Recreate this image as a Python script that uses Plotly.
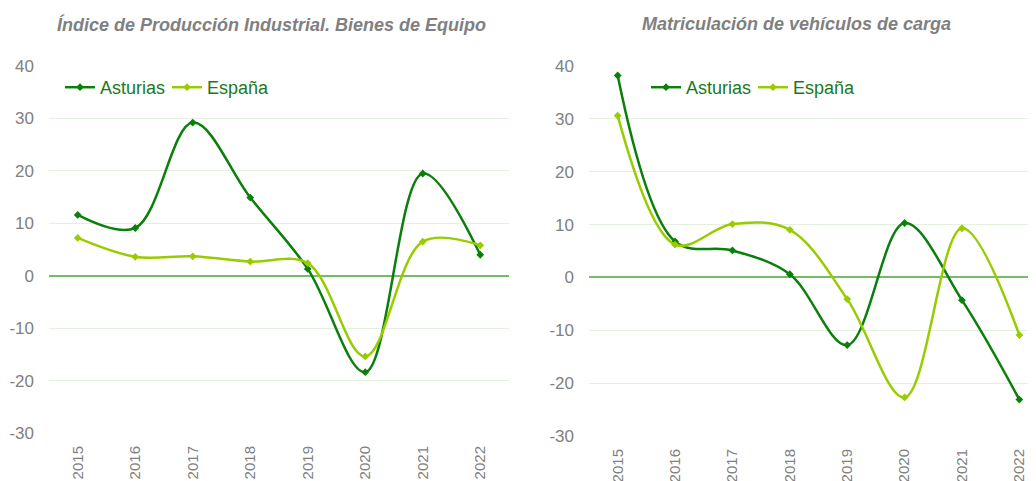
import plotly.graph_objects as go

years = ["2015", "2016", "2017", "2018", "2019", "2020", "2021", "2022"]

ipi_asturias = [11.6, 9.1, 29.2, 14.9, 1.3, -18.4, 19.5, 4.0]
ipi_espana = [7.2, 3.6, 3.7, 2.7, 2.4, -15.4, 6.5, 5.8]

mat_asturias = [38.2, 6.8, 5.1, 0.6, -12.8, 10.3, -4.3, -23.1]
mat_espana = [30.6, 6.2, 10.1, 9.0, -4.1, -22.7, 9.3, -10.9]

y_ticks = [-30, -20, -10, 0, 10, 20, 30, 40]
y_tick_labels = ["-30", "-20", "-10", "0", "10", "20", "30", "40"]

title_left = "Índice de Producción Industrial. Bienes de Equipo"
title_right = "Matriculación de vehículos de carga"

C_AST = "#0b7f0b"
C_ESP = "#99cc00"
GRID = "#e4f1e0"
ZERO = "#76bb6a"
GRAY = "#808080"
LEG = "#1a7a1a"
FONT = "Liberation Sans, Arial, sans-serif"

# page has an 8px body margin; figure sized to fill the rest of the window
OFF = 8
W, H = 1036 - OFF, 481 - OFF


def px(x):
    return (x - OFF) / W


def py(y):
    return 1 - (y - OFF) / H


fig = go.Figure()


def add(x, y, name, color, xa, ya, legend):
    fig.add_trace(go.Scatter(
        x=x, y=y, name=name, mode="lines+markers",
        line=dict(color=color, width=2.5, shape="spline", smoothing=1.0),
        marker=dict(symbol="diamond", size=6, color=color),
        xaxis=xa, yaxis=ya, legend=legend))


add(years, ipi_asturias, "Asturias", C_AST, "x", "y", "legend")
add(years, ipi_espana, "España", C_ESP, "x", "y", "legend")
add(years, mat_asturias, "Asturias", C_AST, "x2", "y2", "legend2")
add(years, mat_espana, "España", C_ESP, "x2", "y2", "legend2")

xcommon = dict(type="category", tickangle=-90, showgrid=False, zeroline=False,
               showline=False, ticks="", tickfont=dict(size=15, color=GRAY, family=FONT),
               ticklabelstandoff=9, automargin=False)
ycommon = dict(range=[-30, 40], tickmode="array", tickvals=y_ticks, ticktext=y_tick_labels,
               showgrid=True, gridcolor=GRID, gridwidth=1,
               zeroline=True, zerolinecolor=ZERO, zerolinewidth=2, showline=False,
               ticks="", tickfont=dict(size=17, color=GRAY, family=FONT),
               ticklabelstandoff=14, automargin=False)

legcommon = dict(orientation="h", xanchor="left", yanchor="top",
                 font=dict(size=18, color=LEG, family=FONT),
                 bgcolor="rgba(0,0,0,0)", tracegroupgap=0, entrywidth=62)

fig.update_layout(
    width=W, height=H, margin=dict(l=0, r=0, t=0, b=0, autoexpand=False),
    paper_bgcolor="white", plot_bgcolor="white",
    font=dict(family=FONT),
    xaxis=dict(domain=[px(49), px(509)], range=[-0.5, 7.5], anchor="y", **xcommon),
    yaxis=dict(domain=[py(433), py(66)], anchor="x", **ycommon),
    xaxis2=dict(domain=[px(589), 1.0], range=[-0.5, 7.29], anchor="y2", **xcommon),
    yaxis2=dict(domain=[py(436), py(66)], anchor="x2", **ycommon),
    legend=dict(x=px(60), y=py(69), **legcommon),
    legend2=dict(x=px(646), y=py(69), **legcommon),
    annotations=[
        dict(text="<b><i>" + title_left + "</i></b>", x=px(271), y=py(24),
             xref="paper", yref="paper", showarrow=False, xanchor="center", yanchor="middle",
             font=dict(size=18, color=GRAY, family=FONT)),
        dict(text="<b><i>" + title_right + "</i></b>", x=px(796), y=py(24),
             xref="paper", yref="paper", showarrow=False, xanchor="center", yanchor="middle",
             font=dict(size=18, color=GRAY, family=FONT)),
    ],
)

fig.write_html("out.html")
